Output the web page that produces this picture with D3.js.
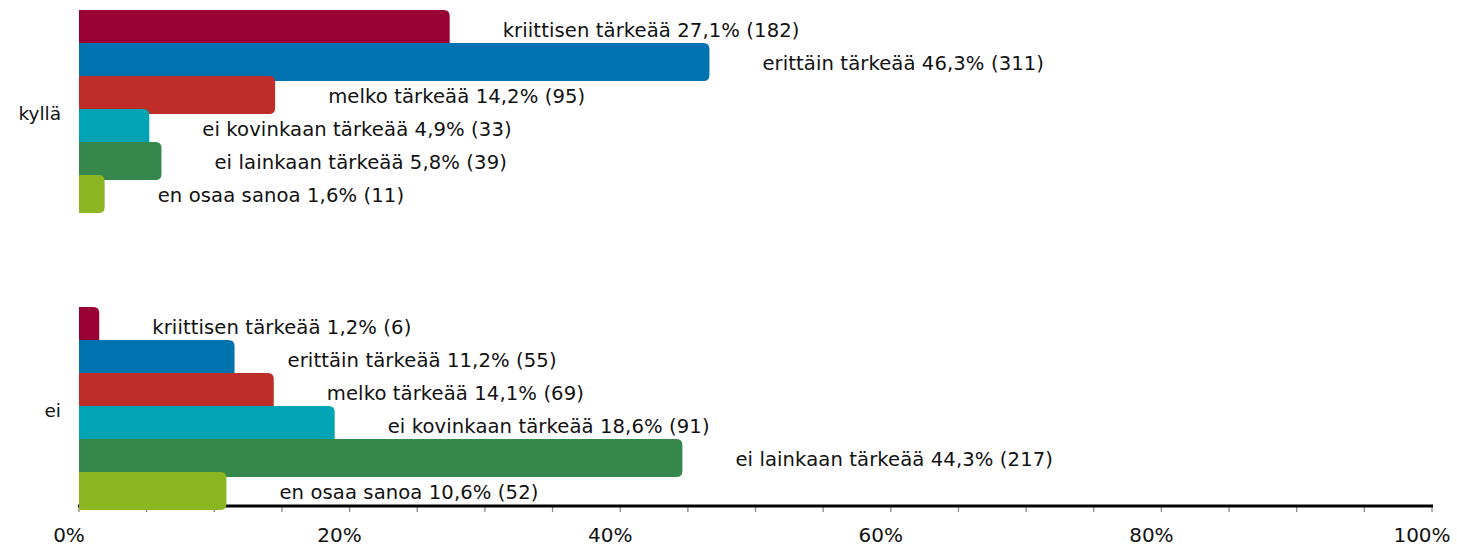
<!DOCTYPE html>
<html>
<head>
<meta charset="utf-8">
<script src="https://cdn.jsdelivr.net/npm/d3@7"></script>
<style>
  html, body { margin: 0; padding: 0; background: #fff; }
  svg { display: block; }
  text { font-family: "DejaVu Sans", sans-serif; fill: #111; }
</style>
</head>
<body>
<svg id="chart" width="1457" height="548"></svg>
<script>
const groups = ["kyllä", "ei"];
const categories = ["kriittisen tärkeää", "erittäin tärkeää", "melko tärkeää", "ei kovinkaan tärkeää", "ei lainkaan tärkeää", "en osaa sanoa"];
const colors = ["#990033", "#0072b0", "#be2d27", "#01a4b5", "#36874b", "#8bb521"];
const kyllaPct = [27.1, 46.3, 14.2, 4.9, 5.8, 1.6];
const kyllaN = [182, 311, 95, 33, 39, 11];
const eiPct = [1.2, 11.2, 14.1, 18.6, 44.3, 10.6];
const eiN = [6, 55, 69, 91, 217, 52];
const xTicks = [0, 20, 40, 60, 80, 100];
const xMinorTicks = d3.range(0, 101, 5);

const pctByGroup = { "kyllä": kyllaPct, "ei": eiPct };
const nByGroup = { "kyllä": kyllaN, "ei": eiN };

const svg = d3.select("#chart");
const x = d3.scaleLinear().domain([0, 100]).range([79, 1432]);
const y0 = d3.scaleBand().domain(groups).range([10, 505]).paddingInner(1/3).paddingOuter(0);
const y1 = d3.scaleBand().domain(categories).range([0, y0.bandwidth()]).padding(0);
const overlap = 5;
const cap = 4;
const r = 6;

// axis
const axisY = 506;
const axisG = svg.append("g").attr("transform", `translate(0,${axisY})`);
axisG.selectAll("line.minor").data(xMinorTicks).join("line")
  .attr("class", "minor")
  .attr("x1", d => x(d)).attr("x2", d => x(d))
  .attr("y1", 0).attr("y2", 6)
  .attr("stroke", "#8a8a8a").attr("stroke-width", 1.3);
axisG.append("line")
  .attr("x1", x(0) - 1).attr("x2", x(100) + 1)
  .attr("y1", 0).attr("y2", 0)
  .attr("stroke", "#000").attr("stroke-width", 3);
axisG.selectAll("text.tick").data(xTicks).join("text")
  .attr("class", "tick")
  .attr("x", d => x(d) - 10)
  .attr("y", 36)
  .attr("text-anchor", "middle")
  .style("font-size", "20px")
  .text(d => d + "%");

function barPath(x0, x1, top, h, rad) {
  const rr = Math.min(rad, (x1 - x0));
  return `M${x0},${top} H${x1 - rr} Q${x1},${top} ${x1},${top + rr} V${top + h - rr} Q${x1},${top + h} ${x1 - rr},${top + h} H${x0} Z`;
}

groups.forEach(g => {
  const gTop = y0(g);
  const gEl = svg.append("g");
  categories.forEach((c, i) => {
    const v = pctByGroup[g][i];
    const top = gTop + y1(c);
    const h = y1.bandwidth() + overlap;
    gEl.append("path")
      .attr("d", barPath(x(0), x(v) + cap, top, h, r))
      .attr("fill", colors[i]);
  });
  categories.forEach((c, i) => {
    const v = pctByGroup[g][i];
    const n = nByGroup[g][i];
    const top = gTop + y1(c);
    gEl.append("text")
      .attr("x", x(v) + 57)
      .attr("y", top + 27)
      .style("font-size", "19.6px")
      .style("letter-spacing", "0.1px")
      .text(`${c} ${d3.format(".1f")(v).replace(".", ",")}% (${n})`);
  });
  svg.append("text")
    .attr("x", 61)
    .attr("y", gTop + 110)
    .attr("text-anchor", "end")
    .style("font-size", "18.5px")
    .text(g);
});
</script>
</body>
</html>
